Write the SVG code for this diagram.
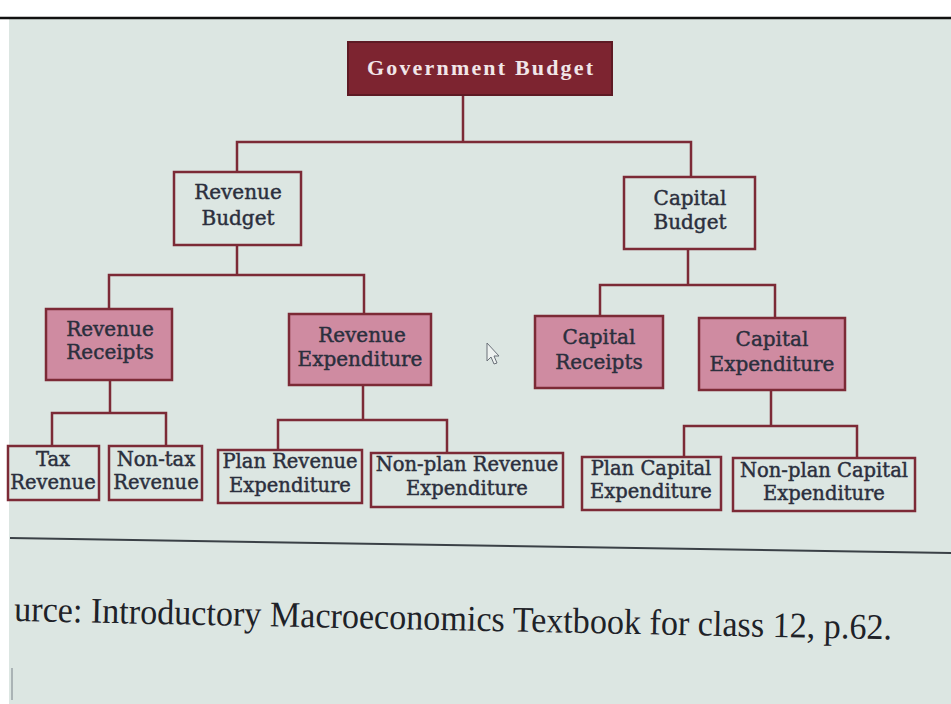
<svg xmlns="http://www.w3.org/2000/svg" width="951" height="704" viewBox="0 0 951 704">
<style>
.bg{fill:#dce6e2}
.box{fill:#dce6e2;stroke:#7c2a36;stroke-width:2.5}
.pink{fill:#cf8ba1;stroke:#7c2a36;stroke-width:2.5}
.root{fill:#7d2430;stroke:#5e1a24;stroke-width:2}
.con{fill:none;stroke:#7c2a36;stroke-width:2.5}
.t{font-family:"DejaVu Serif","Liberation Serif",serif;fill:#2b2f3d;stroke:#2b2f3d;stroke-width:0.45;text-anchor:middle}
.m{font-size:20px}
.s{font-size:19.5px}
.rt{font-family:"Liberation Serif","DejaVu Serif",serif;font-weight:bold;font-size:22px;fill:#f1e6e8;text-anchor:middle}
</style>
<rect width="951" height="704" fill="#ffffff"/>
<rect class="bg" x="9" y="19" width="942" height="685"/>
<line x1="0" y1="18" x2="951" y2="18" stroke="#111" stroke-width="2.5"/>
<g id="connectors">
<path class="con" d="M463,95 V142 M237,172 V142 H691 V177"/>
<path class="con" d="M237,245 V275 M109,309 V275 H364 V314"/>
<path class="con" d="M688,249 V285 M600,316 V285 H775 V318"/>
<path class="con" d="M110,380 V413 M52,446 V413 H166 V446"/>
<path class="con" d="M363,385 V420 M278,450 V420 H447 V453"/>
<path class="con" d="M771,390 V426 M684,457 V426 H857 V458"/>
</g>
<g id="government-budget">
<rect class="root" x="348" y="42" width="264" height="53"/>
<text class="rt" x="480" y="75" textLength="226" lengthAdjust="spacing">Government Budget</text>
</g>
<g id="revenue-budget">
<rect class="box" x="174" y="172" width="127" height="73"/>
<text class="t m" x="238" y="199">Revenue</text>
<text class="t m" x="238" y="225">Budget</text>
</g>
<g id="capital-budget">
<rect class="box" x="624" y="177" width="131" height="72"/>
<text class="t m" x="690" y="205">Capital</text>
<text class="t m" x="690" y="229">Budget</text>
</g>
<g id="revenue-receipts">
<rect class="pink" x="46" y="309" width="126" height="71"/>
<text class="t m" x="110" y="336">Revenue</text>
<text class="t m" x="110" y="359">Receipts</text>
</g>
<g id="revenue-expenditure">
<rect class="pink" x="289" y="314" width="142" height="71"/>
<text class="t m" x="362" y="342">Revenue</text>
<text class="t m" x="360" y="366">Expenditure</text>
</g>
<g id="capital-receipts">
<rect class="pink" x="535" y="316" width="128" height="72"/>
<text class="t m" x="599" y="344">Capital</text>
<text class="t m" x="599" y="369">Receipts</text>
</g>
<g id="capital-expenditure">
<rect class="pink" x="699" y="318" width="146" height="72"/>
<text class="t m" x="772" y="346">Capital</text>
<text class="t m" x="772" y="371">Expenditure</text>
</g>
<g id="tax-revenue">
<rect class="box" x="8" y="446" width="91" height="54"/>
<text class="t s" x="53" y="466">Tax</text>
<text class="t s" x="53" y="489">Revenue</text>
</g>
<g id="non-tax-revenue">
<rect class="box" x="109" y="446" width="93" height="54"/>
<text class="t s" x="156" y="466">Non-tax</text>
<text class="t s" x="156" y="489">Revenue</text>
</g>
<g id="plan-revenue-expenditure">
<rect class="box" x="218" y="450" width="144" height="53"/>
<text class="t s" x="290" y="468">Plan Revenue</text>
<text class="t s" x="290" y="492">Expenditure</text>
</g>
<g id="non-plan-revenue-expenditure">
<rect class="box" x="371" y="453" width="192" height="54"/>
<text class="t s" x="467" y="471">Non-plan Revenue</text>
<text class="t s" x="467" y="495">Expenditure</text>
</g>
<g id="plan-capital-expenditure">
<rect class="box" x="582" y="457" width="139" height="53"/>
<text class="t s" x="651" y="475">Plan Capital</text>
<text class="t s" x="651" y="498">Expenditure</text>
</g>
<g id="non-plan-capital-expenditure">
<rect class="box" x="733" y="458" width="182" height="53"/>
<text class="t s" x="824" y="477">Non-plan Capital</text>
<text class="t s" x="824" y="500">Expenditure</text>
</g>
<path d="M487,343 V361 L491,357 L494,364 L497,363 L494,356 L499,356 Z" fill="#eef2f0" stroke="#6a7078" stroke-width="1"/>
<line x1="10" y1="538" x2="951" y2="553" stroke="#3a4046" stroke-width="2"/>
<text x="14" y="621" transform="rotate(1.2 14 621)" font-family="'Liberation Serif','Times New Roman',serif" font-size="36" fill="#1e2228" textLength="878" lengthAdjust="spacingAndGlyphs">urce: Introductory Macroeconomics Textbook for class 12, p.62.</text>
<line x1="12" y1="668" x2="12" y2="700" stroke="#9aa2a6" stroke-width="1.5"/>
</svg>
